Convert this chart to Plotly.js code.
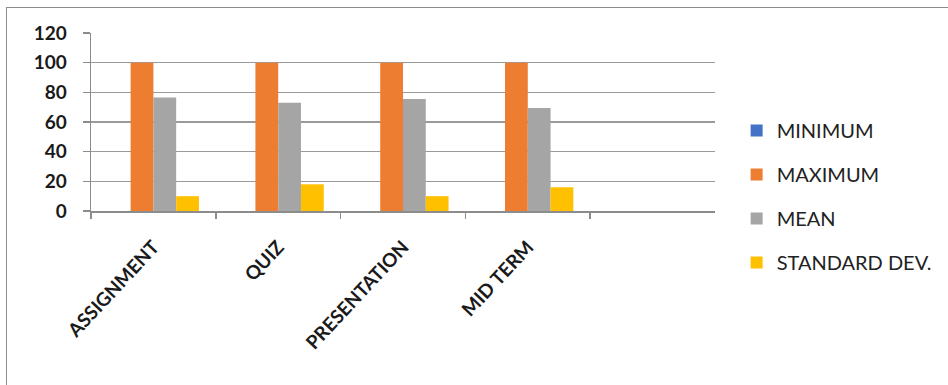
<!DOCTYPE html>
<html>
<head>
<meta charset="utf-8">
<script src="https://cdn.plot.ly/plotly-3.0.1.min.js"></script>
<style>
  html, body { margin: 0; padding: 0; width: 948px; height: 385px; overflow: hidden; background: #fff; }
  #chart { position: absolute; left: 0; top: 0; width: 948px; height: 385px; }
  #frame { position: absolute; left: 6px; top: 7px; width: 1000px; height: 500px; border: 1px solid #8c8c8c; pointer-events: none; }
</style>
</head>
<body>
<div id="chart"></div>
<div id="frame"></div>
<script>
const categories = ['ASSIGNMENT', 'QUIZ', 'PRESENTATION', 'MID TERM'];
const minimum = [0, 0, 0, 0];
const maximum = [100, 100, 100, 100];
const mean = [76.5, 73, 75.5, 69.5];
const standardDev = [10, 18, 10, 16];
const seriesNames = ['MINIMUM', 'MAXIMUM', 'MEAN', 'STANDARD DEV.'];
const seriesColors = ['#4472C4', '#ED7D31', '#A5A5A5', '#FFC000'];
const yTicks = [0, 20, 40, 60, 80, 100, 120];

const seriesValues = [minimum, maximum, mean, standardDev];
const traces = seriesValues.map((vals, i) => ({
  type: 'bar',
  x: categories,
  y: vals,
  name: seriesNames[i],
  legendgroup: 'g' + i,
  marker: { color: seriesColors[i], line: { width: 0 } },
  hoverinfo: 'x+y+name'
}));

const layout = {
  width: 948,
  height: 385,
  margin: { l: 91, r: 232, t: 33, b: 174, pad: 0 },
  paper_bgcolor: '#ffffff',
  plot_bgcolor: '#ffffff',
  barmode: 'group',
  bargap: 0.27,
  bargroupgap: 0,
  showlegend: true,
  legend: {
    x: 1.033, xanchor: 'left',
    y: 0.562, yanchor: 'top',
    traceorder: 'grouped',
    tracegroupgap: 15,
    font: { family: 'Lato, "Open Sans", sans-serif', size: 20, color: '#222222' },
    bgcolor: 'rgba(0,0,0,0)'
  },
  xaxis: {
    type: 'category',
    categoryorder: 'array',
    categoryarray: categories,
    range: [-0.5, 4.5],
    tickson: 'boundaries',
    ticks: 'outside',
    ticklen: 6,
    tickcolor: '#8c8c8c',
    tickwidth: 1.5,
    ticklabelstandoff: 16,
    showline: true,
    linecolor: '#8c8c8c',
    linewidth: 1.5,
    showgrid: false,
    tickangle: -47,
    tickfont: { family: 'Lato, "Open Sans", sans-serif', size: 19, color: '#1a1a1a', weight: 'bold' },
    fixedrange: true
  },
  yaxis: {
    range: [0, 120],
    tickvals: yTicks,
    ticktext: yTicks.map(String),
    ticks: 'outside',
    ticklen: 7,
    tickcolor: '#8c8c8c',
    tickwidth: 1.5,
    ticklabelstandoff: 12,
    showline: true,
    linecolor: '#8c8c8c',
    linewidth: 1.5,
    showgrid: true,
    gridcolor: '#9a9a9a',
    gridwidth: 1.5,
    zeroline: false,
    tickfont: { family: 'Lato, "Open Sans", sans-serif', size: 19, color: '#1a1a1a', weight: 'bold' },
    fixedrange: true
  }
};

Plotly.newPlot('chart', traces, layout, { displayModeBar: false, staticPlot: true });
</script>
</body>
</html>
